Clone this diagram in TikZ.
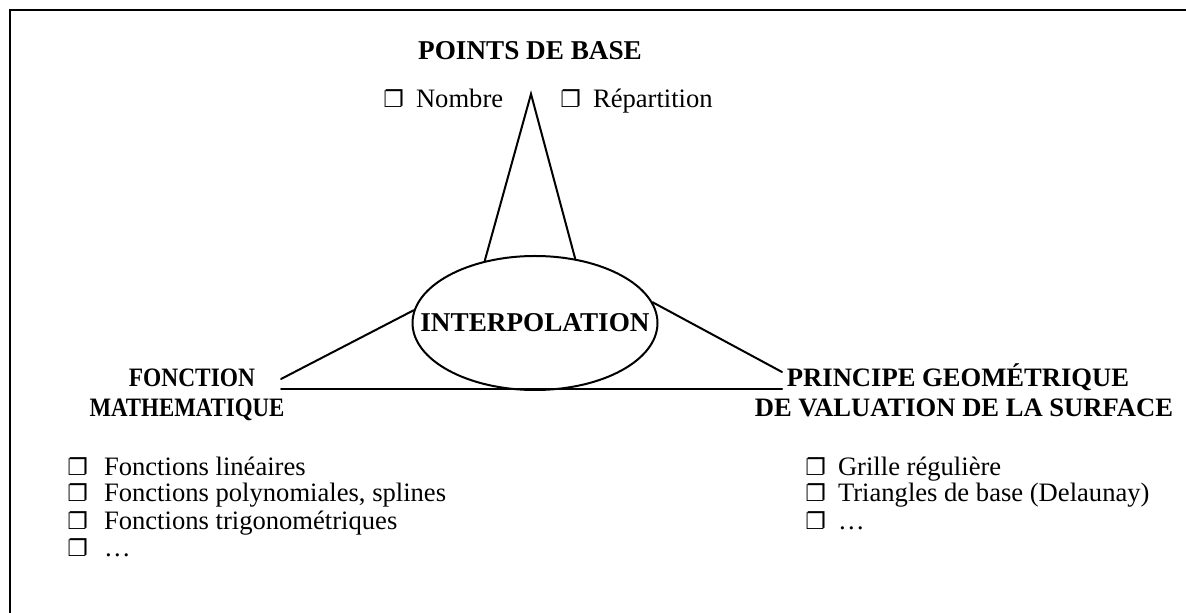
\documentclass[tikz,border=0pt]{standalone}
\usepackage{fontspec}
\setmainfont{Liberation Serif}
\newfontfamily\symfont{DejaVu Sans}
\usetikzlibrary{shapes.geometric}
\newcommand{\chk}{{\symfont\fontsize{11.5}{12}\selectfont ❐}}

\begin{document}
\begin{tikzpicture}[
  x=0.5pt, y=-0.5pt,
  head/.style={font=\fontsize{13.3}{15}\selectfont\bfseries, anchor=base, inner sep=0pt},
  item/.style={font=\fontsize{13.3}{14}\selectfont, anchor=base west, inner sep=0pt},
  conn/.style={line width=1pt, line cap=round},
]
\useasboundingbox (0,0) rectangle (1186,613);

% Frame (top and left edges only)
\draw[line width=1.4pt] (10,613) -- (10,10) -- (1186,10);

% =============================================
% Centre: interpolation
% =============================================
\node[ellipse, draw, line width=1pt, minimum width=122pt, minimum height=67pt,
  inner xsep=-14pt, inner ysep=0pt, font=\fontsize{13.6}{15}\selectfont\bfseries]
  (interp) at (535,323) {INTERPOLATION};

% =============================================
% Top: base points
% =============================================
\node[head, font=\fontsize{13.6}{15}\selectfont\bfseries] (pts) at (530,60) {POINTS DE BASE};
\node[item] (nombre) at (383,108) {\chk\hspace{6pt}Nombre};
\node[item] (repart) at (560,108) {\chk\hspace{6pt}Répartition};

\coordinate (apex) at (531,94);
\draw[conn] (interp.129) -- (apex) -- (interp.58);

% =============================================
% Left: mathematical function
% =============================================
\node[head] (fon1) at (192,387) {\scalebox{0.88}[1]{FONCTION}};
\node[head] (fon2) at (187,417) {\scalebox{0.86}[1]{MATHEMATIQUE}};

\node[item] (l1) at (67,475) {\chk\hspace{8pt}Fonctions linéaires};
\node[item] (l2) at (67,502) {\chk\hspace{8pt}Fonctions polynomiales, splines};
\node[item] (l3) at (67,529) {\chk\hspace{8pt}Fonctions trigonométriques};
\node[item] (l4) at (67,556) {\chk\hspace{8pt}…};

% =============================================
% Right: geometric principle
% =============================================
\node[head] (geo1) at (958,387) {PRINCIPE GEOMÉTRIQUE};
\node[head] (geo2) at (964,417) {DE VALUATION DE LA SURFACE};

\node[item] (r1) at (805,475) {\chk\hspace{6pt}Grille régulière};
\node[item] (r2) at (805,502) {\chk\hspace{6pt}Triangles de base (Delaunay)};
\node[item] (r3) at (805,529) {\chk\hspace{6pt}…};

% =============================================
% Connectors to the side labels
% =============================================
\coordinate (lend) at (281,379);
\coordinate (rend) at (782,372);
\coordinate (hl) at (281,389);
\coordinate (hr) at (782,389);
\draw[conn] (interp.174) -- (lend);
\draw[conn] (interp.10) -- (rend);
\draw[conn] (hl) -- (hr);

\end{tikzpicture}
\end{document}
